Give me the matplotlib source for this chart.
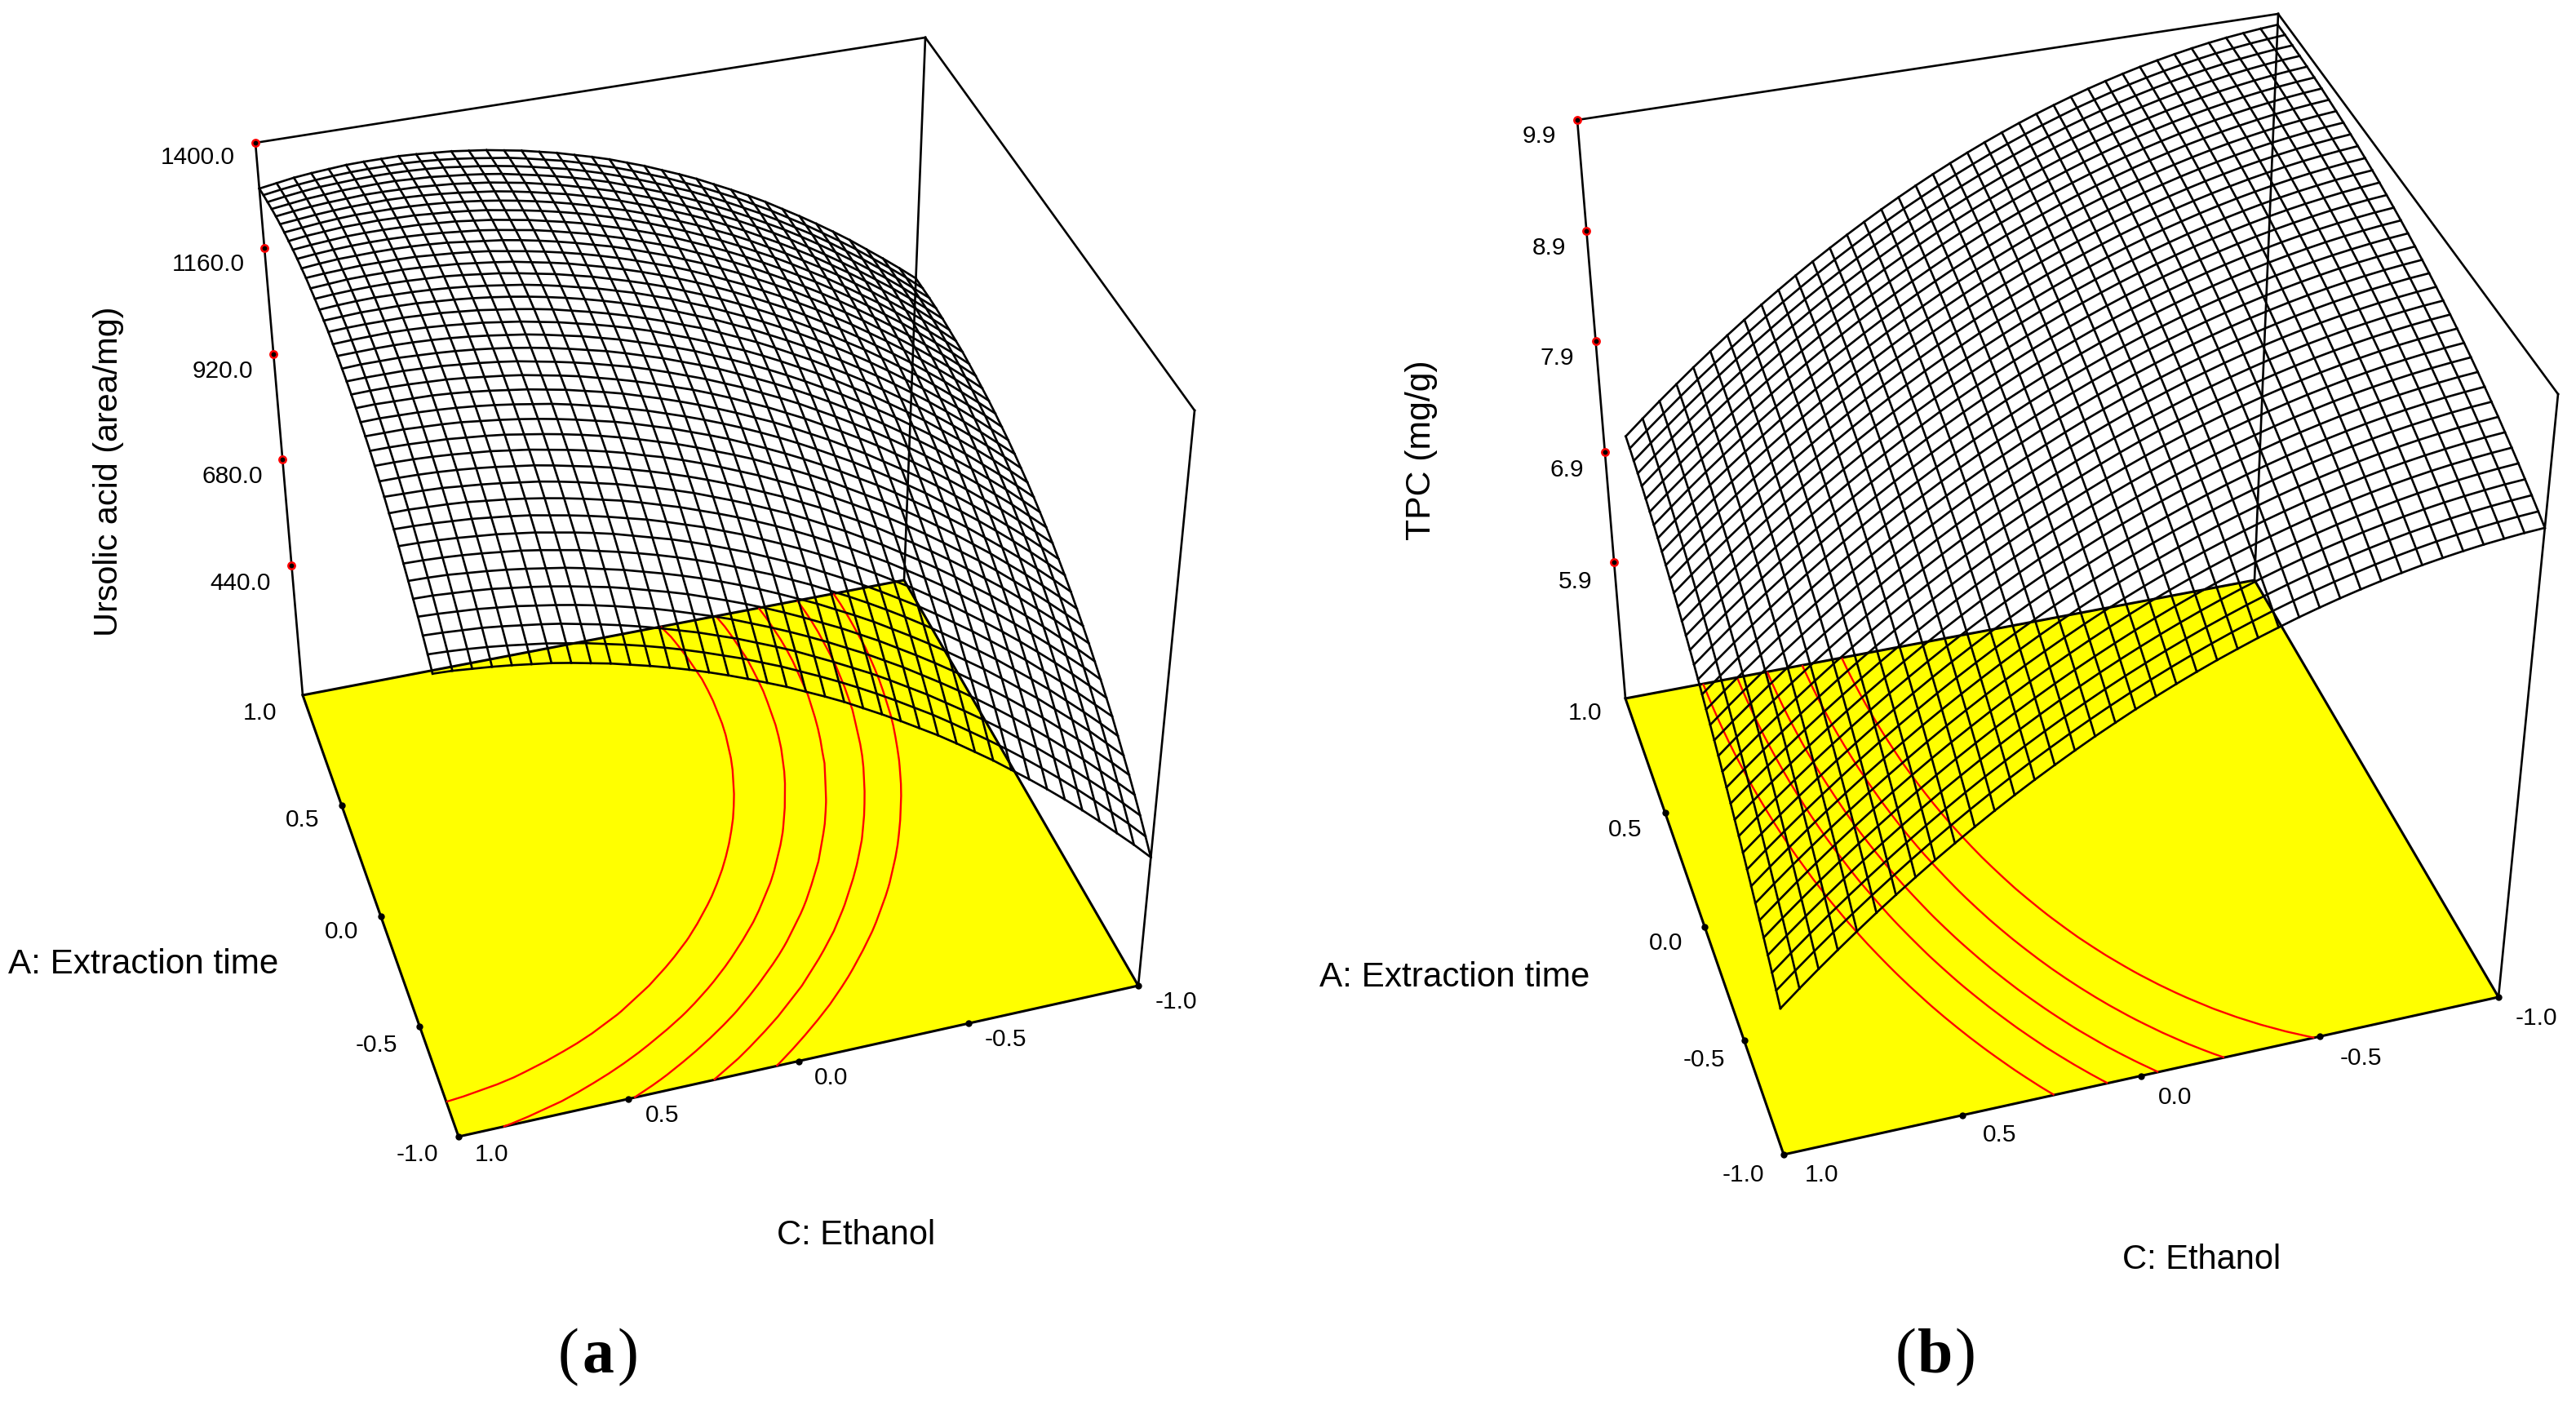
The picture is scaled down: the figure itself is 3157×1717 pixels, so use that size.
import numpy as np
from matplotlib import pyplot as plt

# mesh levels, coded units
levels_a = np.linspace(1, -1, 39)
levels_c = np.linspace(1, -1, 39)

ursolic = np.array([
    [1296,1302,1308,1312,1315,1318,1319,1319,1319,1317,1314,1311,1306,1301,1294,1287,1278,1269,1258,1247,1235,1221,1207,1191,1175,1158,1139,1120,1100,1079,1056,1033,1009,984,958,930,902,873,843],
    [1306,1312,1317,1321,1324,1326,1327,1327,1327,1325,1322,1318,1313,1307,1301,1293,1284,1275,1264,1252,1240,1226,1211,1196,1179,1162,1143,1124,1103,1082,1059,1036,1011,986,960,932,904,875,844],
    [1315,1321,1326,1330,1332,1334,1335,1335,1334,1332,1329,1324,1319,1313,1306,1298,1289,1280,1269,1257,1244,1230,1215,1199,1183,1165,1146,1126,1106,1084,1061,1038,1013,987,961,933,905,875,845],
    [1324,1329,1334,1337,1340,1341,1342,1342,1340,1338,1334,1330,1325,1319,1311,1303,1294,1284,1273,1261,1247,1233,1218,1202,1185,1167,1148,1128,1107,1086,1063,1039,1014,988,961,934,905,875,845],
    [1332,1337,1341,1344,1346,1348,1348,1347,1346,1343,1340,1335,1330,1323,1316,1307,1298,1287,1276,1264,1250,1236,1221,1204,1187,1169,1150,1130,1109,1087,1063,1039,1014,988,961,934,905,875,844],
    [1339,1343,1347,1350,1352,1353,1354,1353,1351,1348,1344,1339,1334,1327,1319,1310,1301,1290,1279,1266,1252,1238,1222,1206,1189,1170,1151,1130,1109,1087,1064,1039,1014,988,961,933,904,873,842],
    [1345,1349,1353,1356,1358,1358,1358,1357,1355,1352,1348,1343,1337,1330,1322,1313,1303,1292,1280,1268,1254,1239,1223,1207,1189,1171,1151,1130,1109,1086,1063,1039,1013,987,959,931,902,872,840],
    [1350,1355,1358,1361,1362,1363,1362,1361,1358,1355,1351,1346,1339,1332,1324,1315,1305,1294,1282,1269,1255,1240,1224,1207,1189,1170,1150,1130,1108,1085,1062,1037,1011,985,957,929,899,869,838],
    [1355,1359,1362,1365,1366,1366,1365,1364,1361,1358,1353,1348,1341,1334,1325,1316,1306,1294,1282,1269,1255,1240,1223,1206,1188,1169,1149,1128,1106,1084,1060,1035,1009,982,955,926,896,866,834],
    [1359,1363,1366,1368,1369,1369,1368,1366,1363,1359,1355,1349,1342,1335,1326,1316,1306,1294,1282,1268,1254,1239,1222,1205,1187,1168,1147,1126,1104,1081,1057,1032,1006,979,951,922,893,862,830],
    [1362,1366,1369,1370,1371,1371,1370,1368,1365,1360,1355,1350,1343,1335,1326,1316,1305,1294,1281,1267,1253,1237,1221,1203,1185,1165,1145,1124,1101,1078,1054,1029,1002,975,947,918,888,857,825],
    [1365,1368,1370,1372,1372,1372,1371,1368,1365,1361,1356,1349,1342,1334,1325,1315,1304,1292,1279,1265,1251,1235,1218,1200,1182,1162,1142,1120,1098,1074,1050,1024,998,971,942,913,883,852,820],
    [1366,1369,1372,1373,1373,1373,1371,1368,1365,1360,1355,1349,1341,1333,1324,1313,1302,1290,1277,1263,1248,1232,1215,1197,1178,1158,1138,1116,1093,1070,1045,1019,993,966,937,908,877,846,814],
    [1367,1370,1372,1373,1373,1372,1370,1368,1364,1359,1354,1347,1339,1331,1321,1311,1299,1287,1274,1260,1244,1228,1211,1193,1174,1154,1133,1111,1088,1064,1040,1014,987,960,931,901,871,840,807],
    [1367,1370,1372,1373,1372,1371,1369,1366,1362,1357,1351,1345,1337,1328,1318,1308,1296,1284,1270,1256,1240,1224,1206,1188,1169,1149,1128,1106,1083,1059,1034,1008,981,953,924,895,864,832,800],
    [1367,1369,1371,1371,1371,1370,1367,1364,1360,1355,1349,1342,1334,1325,1315,1304,1292,1279,1266,1251,1235,1219,1201,1183,1163,1143,1122,1099,1076,1052,1027,1001,974,946,917,887,856,824,792],
    [1366,1368,1369,1369,1369,1367,1365,1361,1357,1351,1345,1338,1330,1320,1310,1299,1287,1274,1260,1245,1230,1213,1195,1177,1157,1136,1115,1092,1069,1045,1019,993,966,938,909,879,848,816,783],
    [1363,1365,1366,1367,1366,1364,1361,1357,1353,1347,1341,1333,1325,1315,1305,1294,1282,1269,1254,1239,1223,1206,1189,1170,1150,1129,1108,1085,1061,1037,1011,985,958,929,900,870,839,807,774],
    [1361,1362,1363,1363,1362,1360,1357,1353,1348,1342,1336,1328,1319,1310,1299,1288,1275,1262,1248,1233,1216,1199,1181,1162,1142,1121,1099,1077,1053,1028,1003,976,949,920,891,860,829,797,764],
    [1357,1359,1359,1359,1357,1355,1352,1348,1343,1337,1330,1322,1313,1303,1293,1281,1268,1255,1240,1225,1209,1191,1173,1154,1134,1113,1091,1068,1044,1019,993,966,939,910,881,850,819,786,753],
    [1353,1354,1354,1354,1352,1350,1346,1342,1337,1331,1323,1315,1306,1296,1285,1274,1261,1247,1232,1217,1200,1183,1164,1145,1125,1103,1081,1058,1034,1009,983,956,928,900,870,839,808,775,742],
    [1348,1349,1349,1348,1346,1344,1340,1335,1330,1324,1316,1308,1299,1288,1277,1265,1252,1238,1224,1208,1191,1173,1155,1135,1115,1093,1071,1048,1024,998,972,945,917,888,858,828,796,763,730],
    [1342,1343,1342,1341,1340,1337,1333,1328,1322,1316,1308,1300,1290,1280,1269,1256,1243,1229,1214,1198,1181,1163,1145,1125,1104,1083,1060,1037,1012,987,961,934,905,876,846,815,784,751,717],
    [1335,1336,1335,1334,1332,1329,1325,1320,1314,1307,1300,1291,1281,1271,1259,1247,1233,1219,1204,1188,1171,1153,1134,1114,1093,1071,1049,1025,1000,975,949,921,893,864,834,803,771,738,704],
    [1328,1328,1328,1326,1324,1321,1316,1311,1305,1298,1290,1281,1271,1261,1249,1236,1223,1208,1193,1177,1159,1141,1122,1102,1081,1059,1036,1013,988,962,936,908,880,850,820,789,757,724,690],
    [1320,1320,1319,1317,1315,1311,1307,1302,1295,1288,1280,1271,1261,1250,1238,1225,1212,1197,1181,1165,1148,1129,1110,1090,1069,1046,1023,1000,975,949,922,895,866,837,806,775,742,709,675],
    [1311,1311,1310,1308,1305,1301,1297,1291,1285,1277,1269,1260,1250,1239,1226,1214,1200,1185,1169,1152,1135,1116,1097,1077,1055,1033,1010,986,961,935,908,880,852,822,791,760,727,694,660],
    [1301,1301,1300,1298,1295,1291,1286,1280,1274,1266,1257,1248,1238,1226,1214,1201,1187,1172,1156,1139,1121,1103,1083,1063,1041,1019,996,971,946,920,893,865,836,807,776,744,712,678,644],
    [1291,1290,1289,1287,1283,1279,1274,1268,1262,1254,1245,1235,1225,1213,1201,1188,1174,1158,1142,1125,1107,1089,1069,1048,1027,1004,981,956,931,905,878,849,821,791,760,728,695,662,627],
    [1279,1279,1277,1275,1272,1267,1262,1256,1249,1241,1232,1222,1212,1200,1187,1174,1159,1144,1128,1111,1093,1074,1054,1033,1011,988,965,940,915,889,861,833,804,774,743,711,678,645,610],
    [1268,1267,1265,1262,1259,1254,1249,1243,1235,1227,1218,1208,1197,1186,1173,1159,1145,1129,1113,1095,1077,1058,1038,1017,995,972,948,924,898,872,844,816,787,757,726,694,661,627,592],
    [1255,1254,1252,1249,1245,1241,1235,1229,1221,1213,1204,1194,1182,1170,1158,1144,1129,1113,1097,1079,1061,1042,1021,1000,978,955,931,907,881,854,827,798,769,739,707,675,642,608,574],
    [1241,1240,1238,1235,1231,1226,1221,1214,1206,1198,1188,1178,1167,1155,1142,1128,1113,1097,1080,1063,1044,1025,1004,983,961,938,914,889,863,836,808,780,750,720,689,656,623,589,554],
    [1227,1226,1224,1220,1216,1211,1205,1198,1191,1182,1172,1162,1150,1138,1125,1111,1096,1080,1063,1045,1026,1007,986,965,943,919,895,870,844,817,790,761,731,701,669,637,604,569,534],
    [1212,1211,1208,1205,1201,1195,1189,1182,1174,1165,1156,1145,1133,1121,1108,1093,1078,1062,1045,1027,1008,988,968,946,924,900,876,851,825,798,770,741,711,681,649,617,583,549,514],
    [1197,1195,1192,1189,1184,1179,1172,1165,1157,1148,1138,1127,1116,1103,1089,1075,1060,1043,1026,1008,989,969,948,927,904,881,856,831,805,778,750,721,691,660,628,596,562,528,493],
    [1180,1178,1175,1172,1167,1161,1155,1148,1139,1130,1120,1109,1097,1084,1071,1056,1041,1024,1007,989,969,949,928,907,884,860,836,810,784,757,729,699,670,639,607,574,541,506,471],
    [1163,1161,1158,1154,1149,1143,1137,1129,1121,1111,1101,1090,1078,1065,1051,1036,1021,1004,987,968,949,929,908,886,863,839,815,789,762,735,707,678,648,617,585,552,518,484,448],
    [1145,1143,1139,1135,1130,1124,1118,1110,1101,1092,1081,1070,1058,1045,1031,1016,1000,983,966,947,928,908,886,864,841,817,793,767,740,713,684,655,625,594,562,529,495,461,425],
])

# TPC in thousandths of mg/g, same layout
tpc_milli = np.array([
    [7040,7174,7305,7432,7557,7677,7795,7909,8020,8127,8232,8333,8430,8524,8615,8703,8787,8868,8946,9020,9091,9159,9223,9284,9342,9396,9447,9495,9539,9580,9618,9652,9683,9711,9736,9757,9774,9789,9800],
    [7038,7172,7302,7430,7554,7674,7792,7906,8017,8124,8228,8329,8427,8521,8612,8699,8784,8864,8942,9016,9087,9155,9219,9280,9338,9392,9444,9491,9536,9577,9615,9649,9680,9708,9733,9754,9772,9786,9798],
    [7034,7168,7298,7426,7550,7670,7788,7902,8012,8120,8224,8325,8422,8516,8607,8694,8779,8860,8937,9011,9082,9150,9214,9276,9333,9388,9439,9487,9531,9572,9610,9645,9676,9704,9729,9750,9768,9783,9794],
    [7029,7163,7293,7420,7544,7665,7782,7896,8007,8114,8218,8319,8416,8510,8601,8688,8773,8854,8931,9005,9076,9144,9208,9269,9327,9382,9433,9481,9525,9566,9604,9639,9670,9698,9723,9745,9763,9778,9789],
    [7023,7156,7287,7414,7537,7658,7775,7889,8000,8107,8211,8311,8409,8503,8594,8681,8765,8846,8924,8998,9069,9137,9201,9262,9320,9374,9426,9474,9518,9559,9597,9632,9663,9692,9716,9738,9756,9771,9783],
    [7015,7148,7279,7406,7529,7650,7767,7881,7991,8098,8202,8303,8400,8494,8585,8673,8757,8838,8915,8989,9060,9128,9193,9254,9311,9366,9417,9465,9510,9551,9589,9624,9655,9683,9708,9730,9748,9763,9775],
    [7006,7139,7269,7396,7520,7640,7757,7871,7982,8089,8193,8293,8391,8485,8575,8663,8747,8828,8905,8980,9051,9118,9183,9244,9302,9356,9407,9455,9500,9541,9579,9614,9646,9674,9699,9720,9739,9754,9766],
    [6995,7128,7259,7386,7509,7629,7747,7860,7971,8078,8182,8282,8380,8474,8564,8652,8736,8817,8894,8969,9040,9107,9172,9233,9291,9345,9396,9444,9489,9530,9569,9603,9635,9663,9688,9710,9728,9743,9755],
    [6983,7116,7247,7374,7497,7617,7734,7848,7959,8066,8170,8270,8367,8461,8552,8640,8724,8805,8882,8956,9027,9095,9159,9221,9278,9333,9384,9432,9477,9518,9556,9591,9623,9651,9676,9698,9716,9731,9743],
    [6970,7103,7233,7360,7484,7604,7721,7835,7945,8052,8156,8257,8354,8448,8539,8626,8710,8791,8869,8943,9014,9082,9146,9207,9265,9319,9371,9419,9463,9505,9543,9578,9609,9638,9663,9684,9703,9718,9730],
    [6955,7088,7219,7345,7469,7589,7706,7820,7930,8037,8141,8242,8339,8433,8524,8611,8695,8776,8854,8928,8999,9067,9131,9192,9250,9305,9356,9404,9449,9490,9528,9563,9595,9623,9648,9670,9688,9703,9715],
    [6939,7072,7202,7329,7453,7573,7690,7804,7914,8021,8125,8226,8323,8417,8508,8595,8679,8760,8838,8912,8983,9051,9115,9176,9234,9289,9340,9388,9433,9474,9512,9547,9579,9607,9632,9654,9672,9687,9699],
    [6921,7055,7185,7312,7435,7556,7673,7787,7897,8004,8108,8209,8306,8400,8491,8578,8662,8743,8821,8895,8966,9034,9098,9159,9217,9272,9323,9371,9415,9457,9495,9530,9561,9589,9614,9636,9654,9670,9681],
    [6902,7036,7166,7293,7417,7537,7654,7768,7878,7986,8090,8190,8287,8381,8472,8560,8644,8725,8802,8876,8947,9015,9080,9141,9199,9253,9304,9352,9397,9438,9476,9511,9543,9571,9596,9617,9636,9651,9662],
    [6882,7016,7146,7273,7397,7517,7634,7748,7859,7966,8070,8170,8268,8362,8452,8540,8624,8705,8783,8857,8928,8996,9060,9121,9179,9233,9285,9332,9377,9418,9456,9491,9523,9551,9576,9597,9616,9630,9642],
    [6860,6994,7125,7252,7375,7496,7613,7727,7837,7945,8049,8149,8247,8341,8432,8519,8603,8684,8762,8836,8907,8975,9039,9100,9158,9212,9264,9311,9356,9397,9435,9470,9501,9529,9554,9576,9594,9609,9620],
    [6837,6971,7102,7229,7353,7473,7590,7704,7815,7922,8026,8127,8224,8319,8409,8497,8581,8662,8740,8814,8885,8952,9017,9078,9136,9190,9241,9289,9334,9375,9413,9447,9479,9507,9532,9553,9571,9586,9597],
    [6813,6947,7077,7205,7329,7449,7567,7681,7791,7899,8003,8103,8201,8295,8386,8473,8558,8639,8716,8790,8861,8929,8993,9054,9112,9167,9218,9266,9310,9351,9389,9424,9455,9483,9508,9529,9547,9562,9573],
    [6787,6921,7052,7179,7303,7424,7541,7655,7766,7874,7978,8079,8176,8270,8361,8449,8533,8614,8692,8766,8837,8904,8969,9030,9088,9142,9193,9241,9285,9326,9364,9399,9430,9458,9482,9503,9521,9536,9547],
    [6760,6894,7025,7152,7277,7397,7515,7629,7740,7847,7952,8053,8150,8244,8335,8423,8507,8588,8666,8740,8811,8879,8943,9004,9062,9116,9167,9215,9259,9300,9338,9372,9403,9431,9456,9477,9494,9509,9520],
    [6731,6866,6997,7124,7249,7370,7487,7601,7712,7820,7924,8025,8123,8217,8308,8396,8480,8561,8639,8713,8784,8852,8916,8977,9034,9089,9140,9187,9232,9273,9310,9345,9376,9403,9427,9448,9466,9480,9491],
    [6701,6836,6967,7095,7219,7340,7458,7572,7684,7791,7896,7997,8094,8189,8280,8367,8452,8533,8610,8685,8756,8823,8887,8948,9006,9060,9111,9159,9203,9244,9281,9316,9346,9374,9398,9419,9436,9451,9461],
    [6670,6805,6936,7064,7189,7310,7428,7542,7653,7761,7866,7967,8065,8159,8250,8338,8422,8503,8581,8655,8726,8794,8858,8919,8976,9031,9081,9129,9173,9214,9251,9285,9316,9343,9367,9388,9405,9419,9430],
    [6637,6772,6904,7032,7157,7278,7396,7511,7622,7730,7834,7936,8034,8128,8219,8307,8391,8472,8550,8624,8695,8763,8827,8888,8945,9000,9050,9098,9142,9183,9220,9254,9284,9312,9335,9356,9373,9387,9397],
    [6603,6738,6870,6998,7123,7245,7363,7478,7589,7697,7802,7903,8001,8096,8187,8275,8359,8440,8518,8592,8663,8731,8795,8856,8913,8967,9018,9065,9109,9150,9187,9221,9251,9278,9302,9322,9339,9353,9363],
    [6568,6703,6835,6963,7089,7210,7329,7444,7555,7663,7768,7870,7968,8062,8154,8242,8326,8407,8485,8559,8630,8698,8762,8823,8880,8934,8985,9032,9076,9116,9153,9187,9217,9244,9268,9288,9304,9318,9328],
    [6531,6666,6798,6927,7053,7175,7293,7408,7520,7628,7733,7835,7933,8028,8119,8207,8291,8373,8450,8525,8596,8663,8727,8788,8845,8899,8950,8997,9041,9081,9118,9151,9182,9208,9232,9251,9268,9281,9291],
    [6493,6628,6761,6890,7015,7137,7256,7371,7483,7592,7697,7799,7897,7992,8083,8171,8256,8337,8415,8489,8560,8627,8692,8752,8809,8863,8914,8961,9004,9045,9081,9115,9145,9171,9194,9214,9230,9243,9253],
    [6453,6589,6722,6851,6977,7099,7218,7333,7446,7554,7659,7761,7860,7955,8046,8134,8219,8300,8378,8452,8523,8590,8655,8715,8772,8826,8876,8923,8967,9007,9043,9077,9106,9133,9156,9175,9191,9204,9213],
    [6412,6548,6681,6811,6937,7059,7178,7294,7406,7515,7621,7723,7821,7916,8008,8096,8180,8262,8340,8414,8485,8552,8616,8677,8734,8788,8838,8885,8928,8968,9004,9037,9067,9093,9116,9135,9151,9163,9172],
    [6369,6506,6639,6769,6895,7018,7138,7254,7366,7475,7581,7683,7781,7876,7968,8056,8141,8222,8300,8375,8445,8513,8577,8637,8694,8748,8798,8845,8888,8928,8964,8997,9026,9052,9074,9093,9109,9121,9129],
    [6326,6463,6596,6726,6853,6976,7096,7212,7324,7434,7539,7641,7740,7835,7927,8016,8100,8182,8260,8334,8405,8472,8536,8597,8654,8707,8757,8804,8847,8886,8922,8955,8984,9010,9032,9050,9066,9077,9086],
    [6280,6418,6552,6682,6809,6932,7052,7168,7281,7391,7497,7599,7698,7793,7885,7973,8058,8140,8218,8292,8363,8430,8494,8555,8611,8665,8715,8761,8804,8843,8879,8912,8941,8966,8988,9006,9021,9032,9040],
    [6234,6371,6506,6636,6764,6887,7007,7124,7237,7347,7453,7555,7654,7750,7842,7930,8015,8097,8175,8249,8320,8387,8451,8511,8568,8621,8671,8717,8760,8799,8835,8867,8896,8921,8943,8961,8975,8986,8994],
    [6186,6324,6458,6589,6717,6841,6961,7078,7192,7301,7408,7510,7609,7705,7797,7886,7971,8052,8130,8205,8275,8343,8407,8467,8524,8577,8626,8672,8715,8754,8789,8821,8850,8875,8896,8914,8928,8939,8946],
    [6136,6275,6410,6541,6669,6793,6914,7031,7145,7255,7361,7464,7563,7659,7751,7840,7925,8007,8085,8159,8230,8297,8361,8421,8478,8531,8580,8626,8669,8707,8743,8774,8802,8827,8848,8865,8879,8890,8896],
    [6086,6225,6360,6492,6620,6744,6865,6983,7097,7207,7314,7417,7516,7612,7704,7793,7878,7960,8038,8112,8183,8250,8314,8374,8431,8484,8533,8579,8621,8659,8694,8726,8754,8778,8799,8816,8829,8839,8846],
    [6034,6173,6309,6441,6569,6694,6815,6933,7047,7158,7265,7368,7468,7564,7656,7745,7830,7912,7990,8064,8135,8202,8266,8326,8382,8435,8484,8530,8572,8610,8645,8676,8704,8728,8748,8765,8778,8788,8794],
    [5980,6120,6256,6388,6517,6643,6764,6882,6997,7107,7214,7318,7418,7514,7606,7695,7781,7862,7941,8015,8086,8153,8217,8276,8333,8385,8435,8480,8522,8560,8594,8625,8653,8676,8696,8713,8725,8735,8740],
])
tpc = tpc_milli / 1000

contours_ursolic = [970, 1027, 1083, 1137, 1197]
contours_tpc = [7.64, 7.88, 8.08, 8.30, 8.53]
zticks_ursolic = [1400, 1160, 920, 680, 440]
zticks_tpc = [9.9, 8.9, 7.9, 6.9, 5.9]
xy_ticks = [0.5, 0, -0.5, -1]

AA, CC = np.meshgrid(levels_a, levels_c, indexing='ij')

# box corners on the page, f = floor, t = top, first digit C side, second A side
box_a = dict(z0=145, z1=1400, f00=(562, 1393), f10=(1395, 1208), f01=(371, 852), f11=(1108, 711),
             t00=(522, 681), t10=(1464, 503), t01=(313, 175), t11=(1134, 46))
box_b = dict(z0=4.67, z1=9.9, f00=(2186, 1415), f10=(3062, 1222), f01=(1992, 856), f11=(2763, 711),
             t00=(2170, 700), t10=(3135, 483), t01=(1933, 147), t11=(2792, 17), mesh_t01=(1993, 147))

S = 3157 / 1568
plt.rcParams['font.family'] = ['Liberation Sans', 'DejaVu Sans']
fig = plt.figure(figsize=(31.57, 17.17), dpi=100)
ax = fig.add_axes([0, 0, 1, 1])
ax.set_xlim(0, 3157)
ax.set_ylim(1717, 0)
ax.axis('off')


def project(box, a, c, z):
    s = (1 - np.asarray(c)) / 2
    t = (np.asarray(a) + 1) / 2
    h = (np.asarray(z) - box['z0']) / (box['z1'] - box['z0'])
    out = []
    for i in range(2):
        f = (1-s)*(1-t)*box['f00'][i] + s*(1-t)*box['f10'][i] + (1-s)*t*box['f01'][i] + s*t*box['f11'][i]
        u = (1-s)*(1-t)*box['t00'][i] + s*(1-t)*box['t10'][i] + (1-s)*t*box['t01'][i] + s*t*box['t11'][i]
        out.append(f + h*(u-f))
    return out[0], out[1]


def panel(box, zz, cont, zticks):
    z0, z1 = box['z0'], box['z1']
    x, y = project(box, [-1, -1, 1, 1], [1, -1, -1, 1], [z0]*4)
    ax.fill(x, y, facecolor='#ffff00', edgecolor='black', lw=2.2, zorder=1)
    fx, fy = project(box, AA, CC, np.full(AA.shape, z0))
    ax.contour(fx, fy, zz, levels=cont, colors='red', linewidths=1.7, zorder=2)
    for p, q in [((1, 1, z0), (1, 1, z1)), ((1, -1, z0), (1, -1, z1)), ((-1, -1, z0), (-1, -1, z1)),
                 ((1, 1, z1), (1, -1, z1)), ((1, -1, z1), (-1, -1, z1))]:
        x, y = project(box, [p[0], q[0]], [p[1], q[1]], [p[2], q[2]])
        ax.plot(x, y, color='black', lw=1.9, zorder=2.5)
    mbox = dict(box)
    if 'mesh_t01' in box:
        mbox['t01'] = box['mesh_t01']
    mx, my = project(mbox, AA, CC, zz)
    ax.plot(mx, my, color='black', lw=1.9, zorder=3)
    ax.plot(mx.T, my.T, color='black', lw=1.9, zorder=3)
    x, y = project(box, np.ones(len(zticks)), np.ones(len(zticks)), zticks)
    ax.plot(x, y, 'o', mfc='black', mec='red', mew=1.8, ms=6, ls='none', zorder=4)
    tk = np.array(xy_ticks)
    x, y = project(box, tk, np.ones(4), np.full(4, z0))
    ax.plot(x, y, 'o', color='black', ms=5, ls='none', zorder=4)
    x, y = project(box, -np.ones(4), tk, np.full(4, z0))
    ax.plot(x, y, 'o', color='black', ms=5, ls='none', zorder=4)


panel(box_a, ursolic, contours_ursolic, zticks_ursolic)
panel(box_b, tpc, contours_tpc, zticks_tpc)


def txt(x, y, s, size=21.5, ha='center', **kw):
    ax.text(x*S, y*S, s, fontsize=size, ha=ha, va='center', color='black', **kw)


for x, y, s in [(143, 96, '1400.0'), (149, 161, '1160.0'), (154, 226, '920.0'), (160, 290, '680.0'), (165, 355, '440.0')]:
    txt(x, y, s, ha='right')
for x, y, s in [(947, 83, '9.9'), (953, 151, '8.9'), (958, 218, '7.9'), (964, 286, '6.9'), (969, 354, '5.9')]:
    txt(x, y, s, ha='right')
for x, y, s in [(158, 434, '1.0'), (184, 499, '0.5'), (208, 567, '0.0'), (229, 636, '-0.5'), (254, 703, '-1.0'),
                (299, 703, '1.0'), (403, 679, '0.5'), (506, 656, '0.0'), (612, 633, '-0.5'), (716, 610, '-1.0'),
                (965, 434, '1.0'), (989, 505, '0.5'), (1014, 574, '0.0'), (1037, 645, '-0.5'), (1061, 715, '-1.0'),
                (1109, 715, '1.0'), (1217, 691, '0.5'), (1324, 668, '0.0'), (1437, 644, '-0.5'), (1544, 620, '-1.0')]:
    txt(x, y, s)
txt(66, 287, 'Ursolic acid (area/mg)', size=29.8, rotation=90)
txt(865, 274, 'TPC (mg/g)', size=30.8, rotation=90)
txt(5, 587, 'A: Extraction time', size=30.4, ha='left')
txt(803, 595, 'A: Extraction time', size=30.4, ha='left')
txt(521, 752, 'C: Ethanol', size=30)
txt(1340, 767, 'C: Ethanol', size=30)
for cx, s in [(364, 'a'), (1178, 'b')]:
    txt(cx - 18, 826, '(', size=56, family='Liberation Serif')
    txt(cx, 826, s, size=56, family='Liberation Serif', weight='bold')
    txt(cx + 18, 826, ')', size=56, family='Liberation Serif')

fig.savefig('out.png', dpi=100)
